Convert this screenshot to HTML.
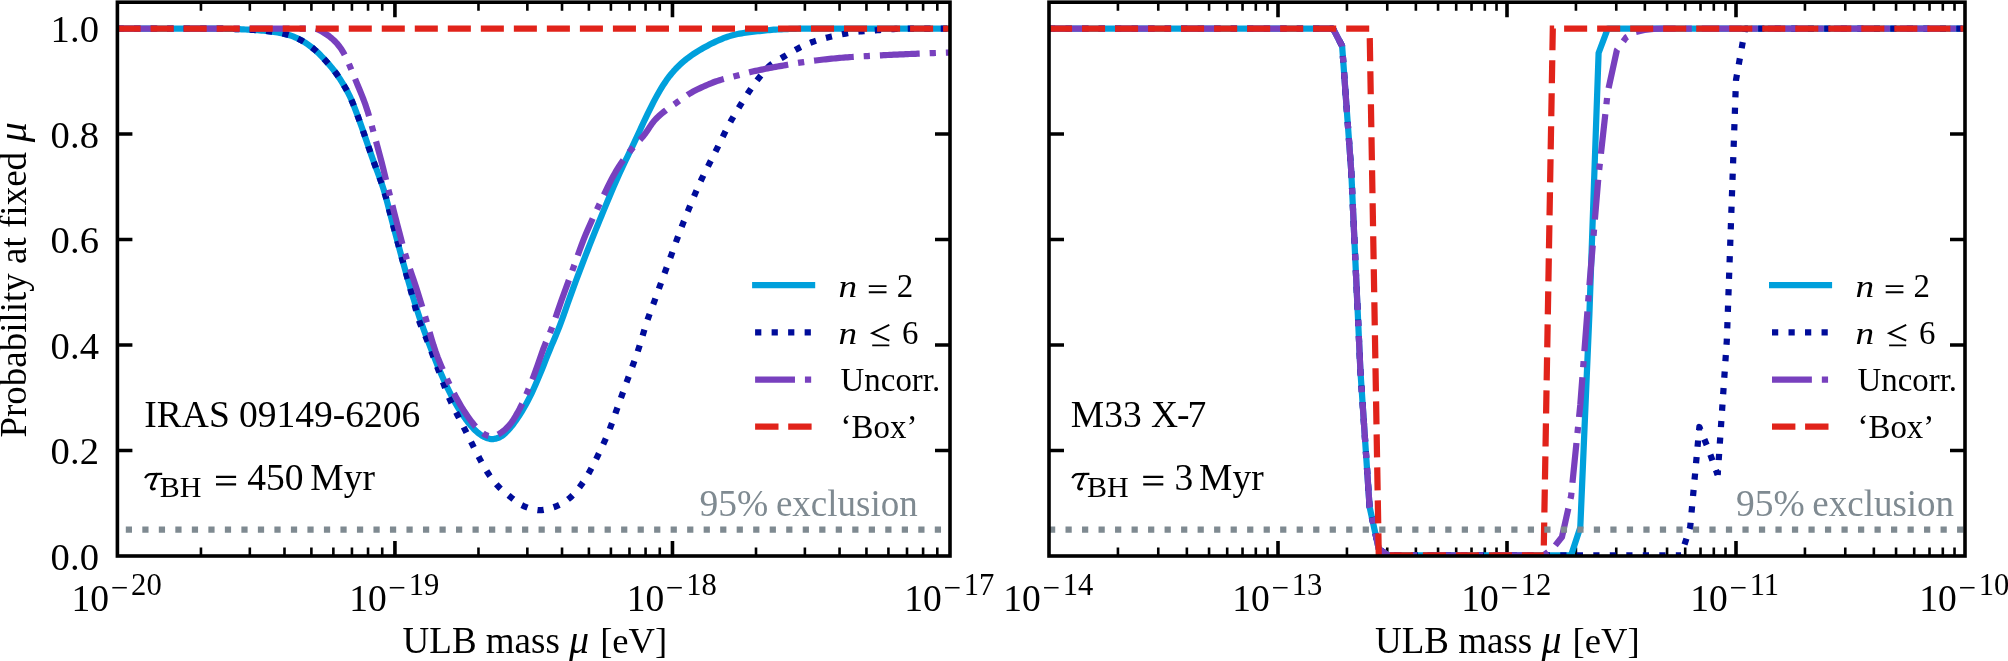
<!DOCTYPE html>
<html><head><meta charset="utf-8"><title>ULB mass exclusion</title>
<style>html,body{margin:0;padding:0;background:#fff}svg{display:block}text{font-family:"Liberation Serif",serif;fill:#000}</style></head><body>
<div style="width:2008px;height:661px;will-change:transform;overflow:hidden">
<svg width="2008" height="661" viewBox="0 0 2008 661">
<rect width="2008" height="661" fill="#fff"/>
<defs><clipPath id="cl"><rect x="117.40" y="2.20" width="832.60" height="553.80"/></clipPath>
<clipPath id="cr"><rect x="1049.00" y="2.20" width="916.00" height="553.80"/></clipPath></defs>
<path d="M200.95,556.00 v-8.60 M200.95,2.20 v8.60" stroke="#000" stroke-width="2.6"/><path d="M249.82,556.00 v-8.60 M249.82,2.20 v8.60" stroke="#000" stroke-width="2.6"/><path d="M284.49,556.00 v-8.60 M284.49,2.20 v8.60" stroke="#000" stroke-width="2.6"/><path d="M311.39,556.00 v-8.60 M311.39,2.20 v8.60" stroke="#000" stroke-width="2.6"/><path d="M333.36,556.00 v-8.60 M333.36,2.20 v8.60" stroke="#000" stroke-width="2.6"/><path d="M351.94,556.00 v-8.60 M351.94,2.20 v8.60" stroke="#000" stroke-width="2.6"/><path d="M368.04,556.00 v-8.60 M368.04,2.20 v8.60" stroke="#000" stroke-width="2.6"/><path d="M382.23,556.00 v-8.60 M382.23,2.20 v8.60" stroke="#000" stroke-width="2.6"/><path d="M394.93,556.00 v-15.00 M394.93,2.20 v15.00" stroke="#000" stroke-width="3.6"/><path d="M478.48,556.00 v-8.60 M478.48,2.20 v8.60" stroke="#000" stroke-width="2.6"/><path d="M527.35,556.00 v-8.60 M527.35,2.20 v8.60" stroke="#000" stroke-width="2.6"/><path d="M562.03,556.00 v-8.60 M562.03,2.20 v8.60" stroke="#000" stroke-width="2.6"/><path d="M588.92,556.00 v-8.60 M588.92,2.20 v8.60" stroke="#000" stroke-width="2.6"/><path d="M610.90,556.00 v-8.60 M610.90,2.20 v8.60" stroke="#000" stroke-width="2.6"/><path d="M629.48,556.00 v-8.60 M629.48,2.20 v8.60" stroke="#000" stroke-width="2.6"/><path d="M645.57,556.00 v-8.60 M645.57,2.20 v8.60" stroke="#000" stroke-width="2.6"/><path d="M659.77,556.00 v-8.60 M659.77,2.20 v8.60" stroke="#000" stroke-width="2.6"/><path d="M672.47,556.00 v-15.00 M672.47,2.20 v15.00" stroke="#000" stroke-width="3.6"/><path d="M756.01,556.00 v-8.60 M756.01,2.20 v8.60" stroke="#000" stroke-width="2.6"/><path d="M804.88,556.00 v-8.60 M804.88,2.20 v8.60" stroke="#000" stroke-width="2.6"/><path d="M839.56,556.00 v-8.60 M839.56,2.20 v8.60" stroke="#000" stroke-width="2.6"/><path d="M866.45,556.00 v-8.60 M866.45,2.20 v8.60" stroke="#000" stroke-width="2.6"/><path d="M888.43,556.00 v-8.60 M888.43,2.20 v8.60" stroke="#000" stroke-width="2.6"/><path d="M907.01,556.00 v-8.60 M907.01,2.20 v8.60" stroke="#000" stroke-width="2.6"/><path d="M923.10,556.00 v-8.60 M923.10,2.20 v8.60" stroke="#000" stroke-width="2.6"/><path d="M937.30,556.00 v-8.60 M937.30,2.20 v8.60" stroke="#000" stroke-width="2.6"/><path d="M117.40,450.51 h15 M950.00,450.51 h-15" stroke="#000" stroke-width="3.6"/><path d="M117.40,345.03 h15 M950.00,345.03 h-15" stroke="#000" stroke-width="3.6"/><path d="M117.40,239.54 h15 M950.00,239.54 h-15" stroke="#000" stroke-width="3.6"/><path d="M117.40,134.06 h15 M950.00,134.06 h-15" stroke="#000" stroke-width="3.6"/><path d="M117.40,28.57 h15 M950.00,28.57 h-15" stroke="#000" stroke-width="3.6"/>
<path d="M1117.94,556.00 v-8.60 M1117.94,2.20 v8.60" stroke="#000" stroke-width="2.6"/><path d="M1158.26,556.00 v-8.60 M1158.26,2.20 v8.60" stroke="#000" stroke-width="2.6"/><path d="M1186.87,556.00 v-8.60 M1186.87,2.20 v8.60" stroke="#000" stroke-width="2.6"/><path d="M1209.06,556.00 v-8.60 M1209.06,2.20 v8.60" stroke="#000" stroke-width="2.6"/><path d="M1227.20,556.00 v-8.60 M1227.20,2.20 v8.60" stroke="#000" stroke-width="2.6"/><path d="M1242.53,556.00 v-8.60 M1242.53,2.20 v8.60" stroke="#000" stroke-width="2.6"/><path d="M1255.81,556.00 v-8.60 M1255.81,2.20 v8.60" stroke="#000" stroke-width="2.6"/><path d="M1267.52,556.00 v-8.60 M1267.52,2.20 v8.60" stroke="#000" stroke-width="2.6"/><path d="M1278.00,556.00 v-15.00 M1278.00,2.20 v15.00" stroke="#000" stroke-width="3.6"/><path d="M1346.94,556.00 v-8.60 M1346.94,2.20 v8.60" stroke="#000" stroke-width="2.6"/><path d="M1387.26,556.00 v-8.60 M1387.26,2.20 v8.60" stroke="#000" stroke-width="2.6"/><path d="M1415.87,556.00 v-8.60 M1415.87,2.20 v8.60" stroke="#000" stroke-width="2.6"/><path d="M1438.06,556.00 v-8.60 M1438.06,2.20 v8.60" stroke="#000" stroke-width="2.6"/><path d="M1456.20,556.00 v-8.60 M1456.20,2.20 v8.60" stroke="#000" stroke-width="2.6"/><path d="M1471.53,556.00 v-8.60 M1471.53,2.20 v8.60" stroke="#000" stroke-width="2.6"/><path d="M1484.81,556.00 v-8.60 M1484.81,2.20 v8.60" stroke="#000" stroke-width="2.6"/><path d="M1496.52,556.00 v-8.60 M1496.52,2.20 v8.60" stroke="#000" stroke-width="2.6"/><path d="M1507.00,556.00 v-15.00 M1507.00,2.20 v15.00" stroke="#000" stroke-width="3.6"/><path d="M1575.94,556.00 v-8.60 M1575.94,2.20 v8.60" stroke="#000" stroke-width="2.6"/><path d="M1616.26,556.00 v-8.60 M1616.26,2.20 v8.60" stroke="#000" stroke-width="2.6"/><path d="M1644.87,556.00 v-8.60 M1644.87,2.20 v8.60" stroke="#000" stroke-width="2.6"/><path d="M1667.06,556.00 v-8.60 M1667.06,2.20 v8.60" stroke="#000" stroke-width="2.6"/><path d="M1685.20,556.00 v-8.60 M1685.20,2.20 v8.60" stroke="#000" stroke-width="2.6"/><path d="M1700.53,556.00 v-8.60 M1700.53,2.20 v8.60" stroke="#000" stroke-width="2.6"/><path d="M1713.81,556.00 v-8.60 M1713.81,2.20 v8.60" stroke="#000" stroke-width="2.6"/><path d="M1725.52,556.00 v-8.60 M1725.52,2.20 v8.60" stroke="#000" stroke-width="2.6"/><path d="M1736.00,556.00 v-15.00 M1736.00,2.20 v15.00" stroke="#000" stroke-width="3.6"/><path d="M1804.94,556.00 v-8.60 M1804.94,2.20 v8.60" stroke="#000" stroke-width="2.6"/><path d="M1845.26,556.00 v-8.60 M1845.26,2.20 v8.60" stroke="#000" stroke-width="2.6"/><path d="M1873.87,556.00 v-8.60 M1873.87,2.20 v8.60" stroke="#000" stroke-width="2.6"/><path d="M1896.06,556.00 v-8.60 M1896.06,2.20 v8.60" stroke="#000" stroke-width="2.6"/><path d="M1914.20,556.00 v-8.60 M1914.20,2.20 v8.60" stroke="#000" stroke-width="2.6"/><path d="M1929.53,556.00 v-8.60 M1929.53,2.20 v8.60" stroke="#000" stroke-width="2.6"/><path d="M1942.81,556.00 v-8.60 M1942.81,2.20 v8.60" stroke="#000" stroke-width="2.6"/><path d="M1954.52,556.00 v-8.60 M1954.52,2.20 v8.60" stroke="#000" stroke-width="2.6"/><path d="M1049.00,450.51 h15 M1965.00,450.51 h-15" stroke="#000" stroke-width="3.6"/><path d="M1049.00,345.03 h15 M1965.00,345.03 h-15" stroke="#000" stroke-width="3.6"/><path d="M1049.00,239.54 h15 M1965.00,239.54 h-15" stroke="#000" stroke-width="3.6"/><path d="M1049.00,134.06 h15 M1965.00,134.06 h-15" stroke="#000" stroke-width="3.6"/><path d="M1049.00,28.57 h15 M1965.00,28.57 h-15" stroke="#000" stroke-width="3.6"/>
<g clip-path="url(#cl)">
<path d="M117.60,28.57 L119.60,28.57 L121.60,28.57 L123.60,28.57 L125.60,28.57 L127.60,28.57 L129.60,28.57 L131.60,28.57 L133.60,28.57 L135.60,28.57 L137.60,28.57 L139.60,28.57 L141.60,28.57 L143.60,28.57 L145.60,28.57 L147.60,28.57 L149.60,28.57 L151.60,28.57 L153.60,28.57 L155.60,28.57 L157.60,28.57 L159.60,28.57 L161.60,28.57 L163.60,28.57 L165.60,28.57 L167.60,28.57 L169.60,28.57 L171.60,28.57 L173.60,28.57 L175.60,28.57 L177.60,28.57 L179.60,28.57 L181.60,28.57 L183.60,28.57 L185.60,28.57 L187.60,28.57 L189.60,28.57 L191.60,28.57 L193.60,28.57 L195.60,28.57 L197.60,28.57 L199.60,28.57 L201.60,28.57 L203.60,28.58 L205.60,28.58 L207.60,28.59 L209.60,28.60 L211.60,28.62 L213.60,28.63 L215.60,28.65 L217.60,28.67 L219.60,28.69 L221.60,28.71 L223.60,28.74 L225.60,28.77 L227.60,28.82 L229.60,28.87 L231.60,28.93 L233.60,28.99 L235.60,29.07 L237.60,29.15 L239.60,29.23 L241.60,29.32 L243.60,29.41 L245.60,29.51 L247.60,29.61 L249.60,29.72 L251.60,29.83 L253.60,29.95 L255.60,30.08 L257.60,30.22 L259.60,30.39 L261.60,30.57 L263.60,30.76 L265.60,30.97 L267.60,31.19 L269.60,31.43 L271.60,31.68 L273.60,31.94 L275.60,32.23 L277.60,32.54 L279.60,32.88 L281.60,33.26 L283.60,33.68 L285.60,34.14 L287.60,34.66 L289.60,35.24 L291.60,35.92 L293.60,36.68 L295.60,37.53 L297.60,38.44 L299.60,39.43 L301.60,40.48 L303.60,41.63 L305.60,42.88 L307.60,44.23 L309.60,45.67 L311.60,47.19 L313.60,48.79 L315.60,50.50 L317.60,52.33 L319.60,54.29 L321.60,56.35 L323.60,58.49 L325.60,60.67 L327.60,62.90 L329.60,65.17 L331.60,67.53 L333.60,70.00 L335.60,72.62 L337.60,75.42 L339.60,78.40 L341.60,81.56 L343.60,84.84 L345.60,88.25 L347.60,91.87 L349.60,95.84 L351.60,100.27 L353.60,105.14 L355.60,110.32 L357.60,115.67 L359.60,121.18 L361.60,126.82 L363.60,132.56 L365.60,138.36 L367.60,144.21 L369.60,150.09 L371.60,155.89 L373.60,161.53 L375.60,166.95 L377.60,172.23 L379.60,177.58 L381.60,183.22 L383.60,189.39 L385.60,196.22 L387.60,203.66 L389.60,211.43 L391.60,219.22 L393.60,226.90 L395.60,234.47 L397.60,242.00 L399.60,249.46 L401.60,256.83 L403.60,264.13 L405.60,271.34 L407.60,278.47 L409.60,285.45 L411.60,292.27 L413.60,298.89 L415.60,305.34 L417.60,311.61 L419.60,317.68 L421.60,323.53 L423.60,329.18 L425.60,334.65 L427.60,339.97 L429.60,345.19 L431.60,350.34 L433.60,355.44 L435.60,360.50 L437.60,365.48 L439.60,370.35 L441.60,375.06 L443.60,379.59 L445.60,383.95 L447.60,388.17 L449.60,392.24 L451.60,396.15 L453.60,399.89 L455.60,403.46 L457.60,406.88 L459.60,410.17 L461.60,413.31 L463.60,416.27 L465.60,419.06 L467.60,421.68 L469.60,424.17 L471.60,426.52 L473.60,428.71 L475.60,430.69 L477.60,432.47 L479.60,434.06 L481.60,435.46 L483.60,436.62 L485.60,437.54 L487.60,438.27 L489.60,438.81 L491.60,439.09 L493.60,439.05 L495.60,438.68 L497.60,438.07 L499.60,437.25 L501.60,436.13 L503.60,434.66 L505.60,432.85 L507.60,430.82 L509.60,428.65 L511.60,426.32 L513.60,423.77 L515.60,421.02 L517.60,418.10 L519.60,415.05 L521.60,411.86 L523.60,408.50 L525.60,404.98 L527.60,401.28 L529.60,397.39 L531.60,393.29 L533.60,388.97 L535.60,384.46 L537.60,379.82 L539.60,375.08 L541.60,370.23 L543.60,365.25 L545.60,360.21 L547.60,355.17 L549.60,350.23 L551.60,345.41 L553.60,340.69 L555.60,335.98 L557.60,331.14 L559.60,326.08 L561.60,320.74 L563.60,315.17 L565.60,309.46 L567.60,303.76 L569.60,298.14 L571.60,292.63 L573.60,287.18 L575.60,281.78 L577.60,276.41 L579.60,271.09 L581.60,265.81 L583.60,260.57 L585.60,255.39 L587.60,250.25 L589.60,245.16 L591.60,240.12 L593.60,235.13 L595.60,230.17 L597.60,225.25 L599.60,220.36 L601.60,215.50 L603.60,210.66 L605.60,205.83 L607.60,201.01 L609.60,196.23 L611.60,191.48 L613.60,186.79 L615.60,182.16 L617.60,177.62 L619.60,173.18 L621.60,168.84 L623.60,164.61 L625.60,160.45 L627.60,156.34 L629.60,152.24 L631.60,148.12 L633.60,143.94 L635.60,139.69 L637.60,135.36 L639.60,130.98 L641.60,126.61 L643.60,122.31 L645.60,118.09 L647.60,113.92 L649.60,109.80 L651.60,105.78 L653.60,101.88 L655.60,98.14 L657.60,94.54 L659.60,91.06 L661.60,87.69 L663.60,84.46 L665.60,81.42 L667.60,78.58 L669.60,75.95 L671.60,73.49 L673.60,71.18 L675.60,69.00 L677.60,66.94 L679.60,64.99 L681.60,63.15 L683.60,61.40 L685.60,59.74 L687.60,58.16 L689.60,56.66 L691.60,55.22 L693.60,53.86 L695.60,52.55 L697.60,51.30 L699.60,50.10 L701.60,48.94 L703.60,47.82 L705.60,46.72 L707.60,45.64 L709.60,44.60 L711.60,43.58 L713.60,42.60 L715.60,41.66 L717.60,40.75 L719.60,39.87 L721.60,39.02 L723.60,38.20 L725.60,37.44 L727.60,36.75 L729.60,36.12 L731.60,35.54 L733.60,35.01 L735.60,34.52 L737.60,34.08 L739.60,33.67 L741.60,33.32 L743.60,32.99 L745.60,32.70 L747.60,32.43 L749.60,32.18 L751.60,31.94 L753.60,31.71 L755.60,31.49 L757.60,31.27 L759.60,31.05 L761.60,30.84 L763.60,30.62 L765.60,30.42 L767.60,30.23 L769.60,30.05 L771.60,29.88 L773.60,29.73 L775.60,29.60 L777.60,29.49 L779.60,29.39 L781.60,29.30 L783.60,29.21 L785.60,29.12 L787.60,29.05 L789.60,28.97 L791.60,28.91 L793.60,28.85 L795.60,28.80 L797.60,28.76 L799.60,28.73 L801.60,28.70 L803.60,28.68 L805.60,28.67 L807.60,28.65 L809.60,28.64 L811.60,28.63 L813.60,28.62 L815.60,28.61 L817.60,28.60 L819.60,28.59 L821.60,28.58 L823.60,28.58 L825.60,28.57 L827.60,28.57 L829.60,28.57 L831.60,28.57 L833.60,28.57 L835.60,28.57 L837.60,28.57 L839.60,28.57 L841.60,28.57 L843.60,28.57 L845.60,28.57 L847.60,28.57 L849.60,28.57 L851.60,28.57 L853.60,28.57 L855.60,28.57 L857.60,28.57 L859.60,28.57 L861.60,28.57 L863.60,28.57 L865.60,28.57 L867.60,28.57 L869.60,28.57 L871.60,28.57 L873.60,28.57 L875.60,28.57 L877.60,28.57 L879.60,28.57 L881.60,28.57 L883.60,28.57 L885.60,28.57 L887.60,28.57 L889.60,28.57 L891.60,28.57 L893.60,28.57 L895.60,28.57 L897.60,28.57 L899.60,28.57 L901.60,28.57 L903.60,28.57 L905.60,28.57 L907.60,28.57 L909.60,28.57 L911.60,28.57 L913.60,28.57 L915.60,28.57 L917.60,28.57 L919.60,28.57 L921.60,28.57 L923.60,28.57 L925.60,28.57 L927.60,28.57 L929.60,28.57 L931.60,28.57 L933.60,28.57 L935.60,28.57 L937.60,28.57 L939.60,28.57 L941.60,28.57 L943.60,28.57 L945.60,28.57 L947.60,28.57 L949.60,28.57 L950.00,28.57" fill="none" stroke="#00a0dc" stroke-width="6.23" stroke-linejoin="round"/>
<path d="M117.60,28.57 L119.60,28.57 L121.60,28.57 L123.60,28.57 L125.60,28.57 L127.60,28.57 L129.60,28.57 L131.60,28.57 L133.60,28.57 L135.60,28.57 L137.60,28.57 L139.60,28.57 L141.60,28.57 L143.60,28.57 L145.60,28.57 L147.60,28.57 L149.60,28.57 L151.60,28.57 L153.60,28.57 L155.60,28.57 L157.60,28.57 L159.60,28.57 L161.60,28.57 L163.60,28.57 L165.60,28.57 L167.60,28.57 L169.60,28.57 L171.60,28.57 L173.60,28.57 L175.60,28.57 L177.60,28.57 L179.60,28.57 L181.60,28.57 L183.60,28.57 L185.60,28.57 L187.60,28.57 L189.60,28.57 L191.60,28.57 L193.60,28.57 L195.60,28.57 L197.60,28.57 L199.60,28.57 L201.60,28.57 L203.60,28.58 L205.60,28.58 L207.60,28.59 L209.60,28.60 L211.60,28.62 L213.60,28.63 L215.60,28.65 L217.60,28.67 L219.60,28.69 L221.60,28.71 L223.60,28.74 L225.60,28.77 L227.60,28.82 L229.60,28.87 L231.60,28.93 L233.60,28.99 L235.60,29.07 L237.60,29.15 L239.60,29.23 L241.60,29.32 L243.60,29.41 L245.60,29.51 L247.60,29.61 L249.60,29.72 L251.60,29.83 L253.60,29.95 L255.60,30.08 L257.60,30.22 L259.60,30.39 L261.60,30.57 L263.60,30.76 L265.60,30.97 L267.60,31.19 L269.60,31.43 L271.60,31.68 L273.60,31.94 L275.60,32.23 L277.60,32.54 L279.60,32.88 L281.60,33.26 L283.60,33.68 L285.60,34.14 L287.60,34.66 L289.60,35.24 L291.60,35.92 L293.60,36.68 L295.60,37.53 L297.60,38.44 L299.60,39.43 L301.60,40.48 L303.60,41.63 L305.60,42.88 L307.60,44.23 L309.60,45.67 L311.60,47.19 L313.60,48.79 L315.60,50.50 L317.60,52.33 L319.60,54.29 L321.60,56.35 L323.60,58.49 L325.60,60.67 L327.60,62.90 L329.60,65.17 L331.60,67.53 L333.60,70.00 L335.60,72.62 L337.60,75.42 L339.60,78.40 L341.60,81.56 L343.60,84.84 L345.60,88.25 L347.60,91.87 L349.60,95.84 L351.60,100.27 L353.60,105.14 L355.60,110.32 L357.60,115.67 L359.60,121.18 L361.60,126.82 L363.60,132.56 L365.60,138.36 L367.60,144.21 L369.60,150.09 L371.60,155.89 L373.60,161.53 L375.60,166.95 L377.60,172.23 L379.60,177.58 L381.60,183.22 L383.60,189.39 L385.60,196.22 L387.60,203.66 L389.60,211.43 L391.60,219.22 L393.60,226.88 L395.60,234.42 L397.60,241.92 L399.60,249.39 L401.60,256.82 L403.60,264.20 L405.60,271.55 L407.60,278.87 L409.60,286.17 L411.60,293.53 L413.60,301.04 L415.60,308.62 L417.60,315.85 L419.60,322.19 L421.60,327.45 L423.60,332.05 L425.60,336.63 L427.60,341.51 L429.60,346.64 L431.60,351.93 L433.60,357.28 L435.60,362.62 L437.60,367.94 L439.60,373.27 L441.60,378.64 L443.60,383.98 L445.60,389.22 L447.60,394.23 L449.60,398.93 L451.60,403.29 L453.60,407.37 L455.60,411.30 L457.60,415.21 L459.60,419.12 L461.60,423.03 L463.60,426.96 L465.60,430.91 L467.60,434.90 L469.60,438.90 L471.60,442.90 L473.60,446.89 L475.60,450.86 L477.60,454.77 L479.60,458.59 L481.60,462.29 L483.60,465.88 L485.60,469.31 L487.60,472.53 L489.60,475.52 L491.60,478.33 L493.60,480.98 L495.60,483.43 L497.60,485.68 L499.60,487.74 L501.60,489.63 L503.60,491.40 L505.60,493.07 L507.60,494.68 L509.60,496.26 L511.60,497.84 L513.60,499.44 L515.60,501.01 L517.60,502.52 L519.60,503.88 L521.60,505.05 L523.60,506.02 L525.60,506.84 L527.60,507.59 L529.60,508.28 L531.60,508.90 L533.60,509.43 L535.60,509.84 L537.60,510.10 L539.60,510.21 L541.60,510.15 L543.60,509.92 L545.60,509.56 L547.60,509.09 L549.60,508.53 L551.60,507.90 L553.60,507.24 L555.60,506.52 L557.60,505.71 L559.60,504.77 L561.60,503.68 L563.60,502.46 L565.60,501.12 L567.60,499.67 L569.60,498.08 L571.60,496.31 L573.60,494.30 L575.60,492.06 L577.60,489.64 L579.60,487.08 L581.60,484.37 L583.60,481.46 L585.60,478.35 L587.60,475.06 L589.60,471.59 L591.60,467.92 L593.60,464.06 L595.60,460.10 L597.60,456.09 L599.60,452.03 L601.60,447.87 L603.60,443.56 L605.60,439.07 L607.60,434.35 L609.60,429.38 L611.60,424.11 L613.60,418.56 L615.60,412.91 L617.60,407.28 L619.60,401.68 L621.60,396.11 L623.60,390.54 L625.60,385.00 L627.60,379.49 L629.60,374.04 L631.60,368.63 L633.60,363.19 L635.60,357.61 L637.60,351.79 L639.60,345.61 L641.60,339.07 L643.60,332.35 L645.60,325.77 L647.60,319.60 L649.60,313.94 L651.60,308.63 L653.60,303.34 L655.60,297.90 L657.60,292.34 L659.60,286.78 L661.60,281.26 L663.60,275.80 L665.60,270.40 L667.60,265.04 L669.60,259.68 L671.60,254.23 L673.60,248.69 L675.60,243.14 L677.60,237.66 L679.60,232.28 L681.60,227.02 L683.60,221.89 L685.60,216.88 L687.60,211.93 L689.60,207.01 L691.60,202.13 L693.60,197.32 L695.60,192.60 L697.60,187.98 L699.60,183.49 L701.60,179.17 L703.60,175.02 L705.60,171.01 L707.60,167.07 L709.60,163.14 L711.60,159.23 L713.60,155.31 L715.60,151.35 L717.60,147.31 L719.60,143.20 L721.60,139.09 L723.60,135.05 L725.60,131.10 L727.60,127.23 L729.60,123.47 L731.60,119.83 L733.60,116.33 L735.60,112.93 L737.60,109.61 L739.60,106.34 L741.60,103.12 L743.60,99.94 L745.60,96.82 L747.60,93.78 L749.60,90.81 L751.60,87.89 L753.60,85.05 L755.60,82.30 L757.60,79.65 L759.60,77.07 L761.60,74.53 L763.60,72.07 L765.60,69.75 L767.60,67.63 L769.60,65.77 L771.60,64.16 L773.60,62.75 L775.60,61.48 L777.60,60.29 L779.60,59.14 L781.60,57.97 L783.60,56.78 L785.60,55.56 L787.60,54.34 L789.60,53.13 L791.60,51.95 L793.60,50.81 L795.60,49.71 L797.60,48.65 L799.60,47.62 L801.60,46.63 L803.60,45.66 L805.60,44.74 L807.60,43.86 L809.60,43.04 L811.60,42.28 L813.60,41.57 L815.60,40.89 L817.60,40.25 L819.60,39.64 L821.60,39.06 L823.60,38.51 L825.60,37.97 L827.60,37.46 L829.60,36.96 L831.60,36.48 L833.60,36.01 L835.60,35.57 L837.60,35.14 L839.60,34.73 L841.60,34.34 L843.60,33.96 L845.60,33.60 L847.60,33.24 L849.60,32.90 L851.60,32.57 L853.60,32.27 L855.60,31.98 L857.60,31.73 L859.60,31.52 L861.60,31.33 L863.60,31.16 L865.60,31.01 L867.60,30.87 L869.60,30.74 L871.60,30.61 L873.60,30.49 L875.60,30.36 L877.60,30.22 L879.60,30.07 L881.60,29.92 L883.60,29.77 L885.60,29.61 L887.60,29.46 L889.60,29.32 L891.60,29.18 L893.60,29.06 L895.60,28.96 L897.60,28.88 L899.60,28.82 L901.60,28.77 L903.60,28.74 L905.60,28.70 L907.60,28.67 L909.60,28.64 L911.60,28.62 L913.60,28.60 L915.60,28.59 L917.60,28.58 L919.60,28.57 L921.60,28.57 L923.60,28.57 L925.60,28.57 L927.60,28.57 L929.60,28.57 L931.60,28.57 L933.60,28.57 L935.60,28.57 L937.60,28.57 L939.60,28.57 L941.60,28.57 L943.60,28.57 L945.60,28.57 L947.60,28.57 L949.60,28.57 L950.00,28.57" fill="none" stroke="#000c9a" stroke-width="6.23" stroke-linejoin="round" stroke-dasharray="6.23 10.28" stroke-dashoffset="0.00"/>
<path d="M117.60,28.57 L119.60,28.57 L121.60,28.57 L123.60,28.57 L125.60,28.57 L127.60,28.57 L129.60,28.57 L131.60,28.57 L133.60,28.57 L135.60,28.57 L137.60,28.57 L139.60,28.57 L141.60,28.57 L143.60,28.57 L145.60,28.57 L147.60,28.57 L149.60,28.57 L151.60,28.57 L153.60,28.57 L155.60,28.57 L157.60,28.57 L159.60,28.57 L161.60,28.57 L163.60,28.57 L165.60,28.57 L167.60,28.57 L169.60,28.57 L171.60,28.57 L173.60,28.57 L175.60,28.57 L177.60,28.57 L179.60,28.57 L181.60,28.57 L183.60,28.57 L185.60,28.57 L187.60,28.57 L189.60,28.57 L191.60,28.57 L193.60,28.57 L195.60,28.57 L197.60,28.57 L199.60,28.57 L201.60,28.57 L203.60,28.57 L205.60,28.57 L207.60,28.57 L209.60,28.57 L211.60,28.57 L213.60,28.57 L215.60,28.57 L217.60,28.57 L219.60,28.57 L221.60,28.57 L223.60,28.57 L225.60,28.57 L227.60,28.57 L229.60,28.57 L231.60,28.57 L233.60,28.57 L235.60,28.57 L237.60,28.57 L239.60,28.57 L241.60,28.57 L243.60,28.57 L245.60,28.57 L247.60,28.57 L249.60,28.57 L251.60,28.57 L253.60,28.57 L255.60,28.57 L257.60,28.57 L259.60,28.57 L261.60,28.57 L263.60,28.57 L265.60,28.57 L267.60,28.57 L269.60,28.57 L271.60,28.57 L273.60,28.57 L275.60,28.57 L277.60,28.57 L279.60,28.57 L281.60,28.57 L283.60,28.57 L285.60,28.57 L287.60,28.57 L289.60,28.57 L291.60,28.57 L293.60,28.57 L295.60,28.57 L297.60,28.57 L299.60,28.57 L301.60,28.57 L303.60,28.57 L305.60,28.57 L307.60,28.57 L309.60,28.57 L311.60,28.57 L313.60,28.61 L315.60,28.80 L317.60,29.33 L319.60,30.25 L321.60,31.36 L323.60,32.54 L325.60,33.79 L327.60,35.13 L329.60,36.60 L331.60,38.21 L333.60,39.98 L335.60,41.97 L337.60,44.20 L339.60,46.72 L341.60,49.59 L343.60,52.89 L345.60,56.67 L347.60,60.93 L349.60,65.53 L351.60,70.30 L353.60,75.15 L355.60,80.06 L357.60,84.96 L359.60,89.81 L361.60,94.68 L363.60,99.73 L365.60,105.16 L367.60,111.20 L369.60,117.95 L371.60,125.19 L373.60,132.52 L375.60,139.79 L377.60,147.05 L379.60,154.46 L381.60,162.10 L383.60,170.02 L385.60,178.13 L387.60,186.28 L389.60,194.33 L391.60,202.29 L393.60,210.15 L395.60,217.94 L397.60,225.67 L399.60,233.35 L401.60,240.96 L403.60,248.35 L405.60,255.35 L407.60,261.90 L409.60,268.04 L411.60,273.93 L413.60,279.79 L415.60,285.79 L417.60,291.99 L419.60,298.36 L421.60,304.84 L423.60,311.43 L425.60,318.13 L427.60,325.01 L429.60,332.06 L431.60,339.03 L433.60,345.61 L435.60,351.60 L437.60,357.06 L439.60,362.13 L441.60,366.92 L443.60,371.50 L445.60,375.95 L447.60,380.29 L449.60,384.53 L451.60,388.64 L453.60,392.62 L455.60,396.43 L457.60,400.09 L459.60,403.60 L461.60,406.97 L463.60,410.21 L465.60,413.29 L467.60,416.23 L469.60,419.05 L471.60,421.76 L473.60,424.30 L475.60,426.62 L477.60,428.71 L479.60,430.62 L481.60,432.34 L483.60,433.80 L485.60,434.92 L487.60,435.74 L489.60,436.29 L491.60,436.55 L493.60,436.37 L495.60,435.73 L497.60,434.75 L499.60,433.57 L501.60,432.25 L503.60,430.74 L505.60,429.02 L507.60,427.06 L509.60,424.86 L511.60,422.32 L513.60,419.41 L515.60,416.14 L517.60,412.61 L519.60,408.86 L521.60,404.87 L523.60,400.59 L525.60,396.07 L527.60,391.37 L529.60,386.50 L531.60,381.45 L533.60,376.25 L535.60,370.87 L537.60,365.29 L539.60,359.52 L541.60,353.73 L543.60,348.16 L545.60,343.01 L547.60,338.25 L549.60,333.61 L551.60,328.73 L553.60,323.35 L555.60,317.54 L557.60,311.56 L559.60,305.70 L561.60,300.02 L563.60,294.47 L565.60,289.00 L567.60,283.56 L569.60,278.12 L571.60,272.63 L573.60,267.06 L575.60,261.43 L577.60,255.79 L579.60,250.23 L581.60,244.82 L583.60,239.63 L585.60,234.69 L587.60,229.96 L589.60,225.40 L591.60,220.96 L593.60,216.63 L595.60,212.37 L597.60,208.15 L599.60,203.96 L601.60,199.75 L603.60,195.53 L605.60,191.31 L607.60,187.15 L609.60,183.08 L611.60,179.16 L613.60,175.43 L615.60,171.92 L617.60,168.63 L619.60,165.52 L621.60,162.56 L623.60,159.72 L625.60,156.98 L627.60,154.34 L629.60,151.77 L631.60,149.27 L633.60,146.88 L635.60,144.60 L637.60,142.42 L639.60,140.26 L641.60,138.04 L643.60,135.67 L645.60,133.05 L647.60,130.16 L649.60,127.13 L651.60,124.19 L653.60,121.56 L655.60,119.28 L657.60,117.26 L659.60,115.41 L661.60,113.67 L663.60,112.03 L665.60,110.44 L667.60,108.91 L669.60,107.44 L671.60,106.04 L673.60,104.67 L675.60,103.31 L677.60,101.93 L679.60,100.52 L681.60,99.08 L683.60,97.64 L685.60,96.23 L687.60,94.87 L689.60,93.61 L691.60,92.44 L693.60,91.34 L695.60,90.30 L697.60,89.31 L699.60,88.36 L701.60,87.43 L703.60,86.51 L705.60,85.61 L707.60,84.73 L709.60,83.87 L711.60,83.05 L713.60,82.27 L715.60,81.54 L717.60,80.86 L719.60,80.23 L721.60,79.63 L723.60,79.07 L725.60,78.53 L727.60,78.00 L729.60,77.49 L731.60,76.98 L733.60,76.47 L735.60,75.95 L737.60,75.43 L739.60,74.90 L741.60,74.37 L743.60,73.84 L745.60,73.32 L747.60,72.81 L749.60,72.30 L751.60,71.81 L753.60,71.34 L755.60,70.89 L757.60,70.45 L759.60,70.02 L761.60,69.61 L763.60,69.20 L765.60,68.81 L767.60,68.42 L769.60,68.04 L771.60,67.66 L773.60,67.29 L775.60,66.91 L777.60,66.54 L779.60,66.17 L781.60,65.81 L783.60,65.44 L785.60,65.07 L787.60,64.71 L789.60,64.35 L791.60,64.00 L793.60,63.66 L795.60,63.33 L797.60,63.00 L799.60,62.69 L801.60,62.39 L803.60,62.10 L805.60,61.81 L807.60,61.53 L809.60,61.26 L811.60,60.99 L813.60,60.73 L815.60,60.48 L817.60,60.23 L819.60,59.99 L821.60,59.76 L823.60,59.53 L825.60,59.31 L827.60,59.10 L829.60,58.89 L831.60,58.69 L833.60,58.49 L835.60,58.30 L837.60,58.11 L839.60,57.93 L841.60,57.76 L843.60,57.59 L845.60,57.43 L847.60,57.27 L849.60,57.13 L851.60,56.99 L853.60,56.85 L855.60,56.73 L857.60,56.60 L859.60,56.49 L861.60,56.37 L863.60,56.26 L865.60,56.15 L867.60,56.04 L869.60,55.94 L871.60,55.83 L873.60,55.73 L875.60,55.62 L877.60,55.52 L879.60,55.41 L881.60,55.31 L883.60,55.21 L885.60,55.11 L887.60,55.01 L889.60,54.91 L891.60,54.81 L893.60,54.72 L895.60,54.62 L897.60,54.53 L899.60,54.44 L901.60,54.35 L903.60,54.27 L905.60,54.18 L907.60,54.10 L909.60,54.01 L911.60,53.93 L913.60,53.85 L915.60,53.77 L917.60,53.69 L919.60,53.61 L921.60,53.54 L923.60,53.46 L925.60,53.38 L927.60,53.30 L929.60,53.23 L931.60,53.15 L933.60,53.08 L935.60,53.01 L937.60,52.93 L939.60,52.86 L941.60,52.79 L943.60,52.72 L945.60,52.65 L947.60,52.59 L949.60,52.53 L950.00,52.53" fill="none" stroke="#7840be" stroke-width="6.23" stroke-linejoin="round" stroke-dasharray="39.87 9.97 6.23 9.97" stroke-dashoffset="0.00"/>
<path d="M117.60,28.57 L950.00,28.57" fill="none" stroke="#e1231a" stroke-width="6.23" stroke-linejoin="miter" stroke-dasharray="23.05 9.97" stroke-dashoffset="0.00"/>
<path d="M92.78,529.63 L970.00,529.63" stroke="#7f8a91" stroke-width="6.23" stroke-dasharray="6.23 10.28" fill="none"/>
</g>
<g clip-path="url(#cr)">
<path d="M1049.00,28.57 L1332.96,28.57 L1342.12,46.00 L1351.28,171.80 L1360.44,371.40 L1369.60,507.00 L1378.76,549.00 L1387.92,555.00 L1397.08,555.30 L1571.12,555.30 L1580.28,527.60 L1589.44,313.00 L1598.60,53.00 L1607.76,28.57 L1965.00,28.57" fill="none" stroke="#00a0dc" stroke-width="6.23" stroke-linejoin="round"/>
<path d="M1049.00,28.57 L1332.96,28.57 L1342.12,46.00 L1351.28,171.80 L1360.44,371.40 L1369.60,507.00 L1378.76,549.00 L1387.92,555.00 L1397.08,555.30" fill="none" stroke="#000c9a" stroke-width="6.23" stroke-linejoin="round" stroke-dasharray="6.23 10.28" stroke-dashoffset="0.00"/><path d="M1397.08,555.30 L1681.04,555.30 L1690.20,527.00 L1699.36,427.00 L1708.52,449.50 L1717.68,475.00" fill="none" stroke="#000c9a" stroke-width="6.23" stroke-linejoin="round" stroke-dasharray="6.23 10.28" stroke-dashoffset="1.93"/><path d="M1717.68,475.00 L1726.84,340.00 L1736.00,80.00 L1745.16,28.57 L1965.00,28.57" fill="none" stroke="#000c9a" stroke-width="6.23" stroke-linejoin="round" stroke-dasharray="6.23 10.28" stroke-dashoffset="1.58"/>
<path d="M1049.00,28.57 L1332.96,28.57 L1342.12,46.00 L1351.28,171.80 L1360.44,371.40 L1369.60,507.00 L1378.76,549.00 L1387.92,555.00 L1397.08,555.30 L1543.64,555.30 L1552.80,548.50 L1561.96,537.00 L1571.12,496.00 L1580.28,405.00 L1589.44,285.00 L1598.60,175.00 L1607.76,92.00 L1616.92,50.00 L1626.08,37.50 L1635.24,32.00 L1644.40,30.00 L1653.56,28.80 L1662.72,28.57 L1965.00,28.57" fill="none" stroke="#7840be" stroke-width="6.23" stroke-linejoin="round" stroke-dasharray="39.87 9.97 6.23 9.97" stroke-dashoffset="0.00"/>
<path d="M1049.00,28.57 L1369.60,28.57 L1378.76,555.30 L1543.64,555.30" fill="none" stroke="#e1231a" stroke-width="6.23" stroke-linejoin="miter" stroke-dasharray="23.05 9.97" stroke-dashoffset="0.00"/><path d="M1543.64,555.30 L1552.80,28.57 L1965.00,28.57" fill="none" stroke="#e1231a" stroke-width="6.23" stroke-linejoin="miter" stroke-dasharray="23.05 9.97" stroke-dashoffset="23.22"/>
<path d="M1049.00,529.63 L1985.00,529.63" stroke="#7f8a91" stroke-width="6.23" stroke-dasharray="6.23 10.28" fill="none"/>
</g>
<rect x="117.40" y="2.20" width="832.60" height="553.80" fill="none" stroke="#000" stroke-width="3.6"/>
<rect x="1049.00" y="2.20" width="916.00" height="553.80" fill="none" stroke="#000" stroke-width="3.6"/>
<text x="99.3" y="569.80" font-size="38.60" text-anchor="end" letter-spacing="0.2">0.0</text>
<text x="99.3" y="464.31" font-size="38.60" text-anchor="end" letter-spacing="0.2">0.2</text>
<text x="99.3" y="358.83" font-size="38.60" text-anchor="end" letter-spacing="0.2">0.4</text>
<text x="99.3" y="253.34" font-size="38.60" text-anchor="end" letter-spacing="0.2">0.6</text>
<text x="99.3" y="147.86" font-size="38.60" text-anchor="end" letter-spacing="0.2">0.8</text>
<text x="99.3" y="42.37" font-size="38.60" text-anchor="end" letter-spacing="0.2">1.0</text>
<text x="71.60" y="611.1" font-size="37.50">10</text>
<text x="110.80" y="597.7" font-size="31.25">−</text>
<text x="131.10" y="595.4" font-size="30.60">20</text>
<text x="349.13" y="611.1" font-size="37.50">10</text>
<text x="388.33" y="597.7" font-size="31.25">−</text>
<text x="408.63" y="595.4" font-size="30.60">19</text>
<text x="626.67" y="611.1" font-size="37.50">10</text>
<text x="665.87" y="597.7" font-size="31.25">−</text>
<text x="686.17" y="595.4" font-size="30.60">18</text>
<text x="904.20" y="611.1" font-size="37.50">10</text>
<text x="943.40" y="597.7" font-size="31.25">−</text>
<text x="963.70" y="595.4" font-size="30.60">17</text>
<text x="1003.20" y="611.1" font-size="37.50">10</text>
<text x="1042.40" y="597.7" font-size="31.25">−</text>
<text x="1062.70" y="595.4" font-size="30.60">14</text>
<text x="1232.20" y="611.1" font-size="37.50">10</text>
<text x="1271.40" y="597.7" font-size="31.25">−</text>
<text x="1291.70" y="595.4" font-size="30.60">13</text>
<text x="1461.20" y="611.1" font-size="37.50">10</text>
<text x="1500.40" y="597.7" font-size="31.25">−</text>
<text x="1520.70" y="595.4" font-size="30.60">12</text>
<text x="1690.20" y="611.1" font-size="37.50">10</text>
<text x="1729.40" y="597.7" font-size="31.25">−</text>
<text x="1749.70" y="595.4" font-size="30.60">11</text>
<text x="1919.20" y="611.1" font-size="37.50">10</text>
<text x="1958.40" y="597.7" font-size="31.25">−</text>
<text x="1978.70" y="595.4" font-size="30.60">10</text>
<text y="653.2" font-size="37.00"><tspan x="402.60">ULB mass</tspan><tspan x="569.10" font-style="italic" font-size="40">μ</tspan><tspan x="600.20" font-size="36.6">[eV]</tspan></text>
<text y="653.2" font-size="37.00"><tspan x="1375.00">ULB mass</tspan><tspan x="1541.50" font-style="italic" font-size="40">μ</tspan><tspan x="1572.60" font-size="36.6">[eV]</tspan></text>
<text transform="translate(26.4,437.6) rotate(-90)" font-size="37">Probability at fixed</text>
<text transform="translate(26.4,142.3) rotate(-90)" font-size="40" font-style="italic">μ</text>
<text x="144.30" y="426.9" font-size="37.50">IRAS 09149-6206</text>

<g transform="translate(144.90,490.40)" fill="none" stroke="#000" stroke-linecap="butt"><path d="M0.2,-12.3 C1.4,-14.9 2.9,-16.2 5.6,-16.3 L17.3,-16.5" stroke-width="2.1"/><path d="M11.7,-16.3 L6.7,-4.9 C5.6,-2.0 6.9,-0.6 9.6,-1.6" stroke-width="2.6" stroke-linecap="round"/></g>
<text x="159.70" y="496.8" font-size="30">BH</text>
<path d="M216.00,476.80 H236.10 M216.00,484.30 H236.10" stroke="#000" stroke-width="2.30" fill="none"/>
<text x="247.30" y="489.8" font-size="37.50">450</text>
<text x="310.30" y="489.8" font-size="37.50">Myr</text>
<text x="1070.80" y="426.9" font-size="37.50">M33 X</text>
<text x="1177.0" y="426.9" font-size="37.50">-</text><text x="1187.6" y="426.9" font-size="37.50">7</text>
<g transform="translate(1072.10,490.40)" fill="none" stroke="#000" stroke-linecap="butt"><path d="M0.2,-12.3 C1.4,-14.9 2.9,-16.2 5.6,-16.3 L17.3,-16.5" stroke-width="2.1"/><path d="M11.7,-16.3 L6.7,-4.9 C5.6,-2.0 6.9,-0.6 9.6,-1.6" stroke-width="2.6" stroke-linecap="round"/></g>
<text x="1086.90" y="496.8" font-size="30">BH</text>
<path d="M1143.20,476.80 H1163.30 M1143.20,484.30 H1163.30" stroke="#000" stroke-width="2.30" fill="none"/>
<text x="1174.50" y="489.8" font-size="37.50">3</text>
<text x="1199.10" y="489.8" font-size="37.50">Myr</text>
<text x="699.60" y="516" font-size="37.5" style="fill:#7f8a91">95%</text>
<text x="917.70" y="516" font-size="37" text-anchor="end" style="fill:#7f8a91">exclusion</text>
<text x="1736.00" y="516" font-size="37.5" style="fill:#7f8a91">95%</text>
<text x="1954.10" y="516" font-size="37" text-anchor="end" style="fill:#7f8a91">exclusion</text>
<path d="M752.10,285.1 h63.1" stroke="#00a0dc" stroke-width="6.23"/>
<path d="M755.10,332.4 h60" stroke="#000c9a" stroke-width="6.23" stroke-dasharray="6.23 10.28"/>
<path d="M755.10,379.65 h56.5" stroke="#7840be" stroke-width="6.23" stroke-dasharray="39.87 9.97 6.23 9.97"/>
<path d="M755.10,426.6 h56.5" stroke="#e1231a" stroke-width="6.23" stroke-dasharray="23.40 9.70"/>
<text x="838.50" y="297.0" font-size="32.5" font-style="italic" textLength="18.6" lengthAdjust="spacingAndGlyphs">n</text>
<path d="M868.80,286.10 H886.50 M868.80,292.20 H886.50" stroke="#000" stroke-width="1.90" fill="none"/>
<text x="896.70" y="297.0" font-size="32.90">2</text>
<text x="838.50" y="343.7" font-size="32.5" font-style="italic" textLength="18.6" lengthAdjust="spacingAndGlyphs">n</text>
<path d="M889.30,324.9 L872.20,333.1 L889.30,340.6 M872.20,345.4 H889.30" stroke="#000" stroke-width="1.9" fill="none" stroke-linejoin="miter"/>
<text x="902.10" y="343.7" font-size="32.90">6</text>
<text x="840.60" y="390.8" font-size="32.90">Uncorr.</text>
<text x="840.60" y="437.7" font-size="32.90">‘Box’</text>
<path d="M1769.00,285.1 h63.1" stroke="#00a0dc" stroke-width="6.23"/>
<path d="M1772.00,332.4 h60" stroke="#000c9a" stroke-width="6.23" stroke-dasharray="6.23 10.28"/>
<path d="M1772.00,379.65 h56.5" stroke="#7840be" stroke-width="6.23" stroke-dasharray="39.87 9.97 6.23 9.97"/>
<path d="M1772.00,426.6 h56.5" stroke="#e1231a" stroke-width="6.23" stroke-dasharray="23.40 9.70"/>
<text x="1855.40" y="297.0" font-size="32.5" font-style="italic" textLength="18.6" lengthAdjust="spacingAndGlyphs">n</text>
<path d="M1885.70,286.10 H1903.40 M1885.70,292.20 H1903.40" stroke="#000" stroke-width="1.90" fill="none"/>
<text x="1913.60" y="297.0" font-size="32.90">2</text>
<text x="1855.40" y="343.7" font-size="32.5" font-style="italic" textLength="18.6" lengthAdjust="spacingAndGlyphs">n</text>
<path d="M1906.20,324.9 L1889.10,333.1 L1906.20,340.6 M1889.10,345.4 H1906.20" stroke="#000" stroke-width="1.9" fill="none" stroke-linejoin="miter"/>
<text x="1919.00" y="343.7" font-size="32.90">6</text>
<text x="1857.50" y="390.8" font-size="32.90">Uncorr.</text>
<text x="1857.50" y="437.7" font-size="32.90">‘Box’</text>
</svg></div></body></html>
